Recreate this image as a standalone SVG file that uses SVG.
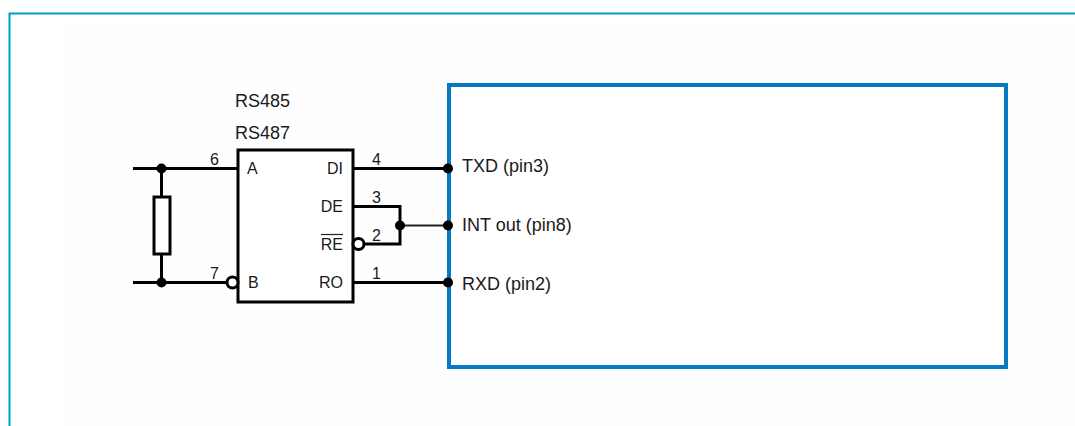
<svg xmlns="http://www.w3.org/2000/svg" width="1075" height="426" viewBox="0 0 1075 426">
<style>
text{font-family:"Liberation Sans",Arial,sans-serif;fill:#1a1a1a}
.t{font-size:18px}
.p{font-size:16px}
.n{font-size:16px}
.w{fill:none;stroke:#000;stroke-width:3}
.thin{fill:none;stroke:#222;stroke-width:2}
.d{fill:#000}
.b{fill:#fff;stroke:#000;stroke-width:3}
</style>
<rect width="1075" height="426" fill="#fff"/>
<rect x="62" y="27" width="1013" height="399" fill="#fefefe"/>
<path id="frame" d="M1075 13.500H9.500V426" fill="none" stroke="#00a0c6" stroke-width="2"/>
<g id="connectors">
<path class="w" d="M133 168.500H238M133 282.500H227M161.500 168.500V197M161.500 254V282.500"/>
<path class="w" d="M352 168.500H448M352 206.500H400V244H364M352 282.500H448"/>
<path class="thin" d="M400 225.500H448"/>
<circle class="d" cx="161.500" cy="168.500" r="5"/>
<circle class="d" cx="161.500" cy="282.500" r="5"/>
<circle class="d" cx="400" cy="225.500" r="5"/>
</g>
<g id="resistor"><rect class="b" x="154" y="197" width="16" height="57"/></g>
<g id="rs485-chip">
<rect class="b" x="238" y="150" width="115" height="152"/>
<circle class="b" cx="232.500" cy="282.500" r="5.500"/>
<circle class="b" cx="358.500" cy="244" r="5.500"/>
<text class="t" x="235" y="107">RS485</text>
<text class="t" x="235" y="139">RS487</text>
<text class="p" x="247" y="174">A</text>
<text class="p" x="248" y="288">B</text>
<text class="p" x="343" y="174" text-anchor="end">DI</text>
<text class="p" x="343" y="212" text-anchor="end">DE</text>
<text class="p" x="343" y="250" text-anchor="end">RE</text>
<path d="M321 234.500H343" stroke="#222" stroke-width="1.200" fill="none"/>
<text class="p" x="343" y="288" text-anchor="end">RO</text>
</g>
<g id="pin-numbers">
<text class="n" x="210" y="165">6</text>
<text class="n" x="210" y="279">7</text>
<text class="n" x="372" y="165">4</text>
<text class="n" x="372" y="203">3</text>
<text class="n" x="372" y="241">2</text>
<text class="n" x="372" y="279">1</text>
</g>
<g id="mcu">
<rect x="449" y="85" width="557" height="282" fill="#fff" stroke="#0678c4" stroke-width="4"/>
<circle class="d" cx="448" cy="168.500" r="5"/>
<circle class="d" cx="448" cy="225.500" r="5"/>
<circle class="d" cx="448" cy="282.500" r="5"/>
<text class="t" x="462" y="172">TXD (pin3)</text>
<text class="t" x="462" y="231">INT out (pin8)</text>
<text class="t" x="462" y="290">RXD (pin2)</text>
</g>
</svg>
